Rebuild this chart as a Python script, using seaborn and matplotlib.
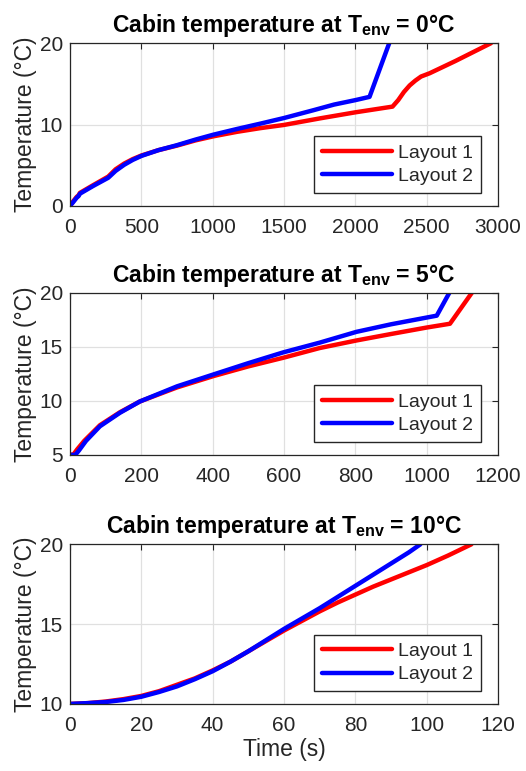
import numpy as np
import pandas as pd
import matplotlib
matplotlib.use("Agg")
import matplotlib.pyplot as plt
import seaborn as sns

# Cabin warm-up curves for two heating layouts at three ambient temperatures

# T_env = 0 degC
time0_l1 = [0, 20, 47, 60, 70, 163, 268, 320, 380, 440, 502, 620, 748, 880, 1005, 1170, 1332, 1500, 1750,
            2000, 2260, 2300, 2340, 2380, 2420, 2460, 2520, 2700, 2950]
temp0_l1 = [0.0, 0.5, 1.1, 1.3, 1.6, 2.55, 3.6, 4.5, 5.2, 5.75, 6.2, 6.85, 7.4, 8.05, 8.55, 9.1, 9.55, 9.95, 10.75,
            11.5, 12.2, 13.0, 14.0, 14.8, 15.4, 15.9, 16.3, 17.8, 20.0]
time0_l2 = [0, 20, 47, 60, 70, 163, 268, 320, 380, 440, 502, 620, 748, 880, 1005, 1170, 1332, 1500, 1704,
            1850, 2000, 2099, 2237]
temp0_l2 = [0.0, 0.4, 1.0, 1.2, 1.5, 2.45, 3.45, 4.3, 5.05, 5.65, 6.15, 6.85, 7.45, 8.15, 8.75, 9.45, 10.1, 10.8, 11.75,
            12.45, 13.0, 13.4, 20.0]

# T_env = 5 degC
time5_l1 = [0, 10, 20, 40, 84, 140, 196, 300, 402, 500, 598, 700, 803, 900, 1000, 1065, 1126]
temp5_l1 = [5.0, 5.05, 5.5, 6.3, 7.75, 8.95, 9.95, 11.25, 12.3, 13.2, 14.0, 14.9, 15.6, 16.2, 16.8, 17.15, 20.0]
time5_l2 = [0, 15, 25, 45, 84, 140, 196, 300, 402, 500, 598, 700, 803, 900, 1028, 1063]
temp5_l2 = [5.0, 5.0, 5.4, 6.3, 7.65, 8.9, 9.95, 11.35, 12.45, 13.5, 14.5, 15.4, 16.4, 17.1, 17.9, 20.0]

# T_env = 10 degC
time10_l1 = [0, 5, 10, 15, 20, 25, 30, 35, 40, 45, 50, 55, 60, 65, 70, 75, 80, 85, 90, 95, 100, 106, 112.5]
temp10_l1 = [10.0, 10.05, 10.15, 10.3, 10.5, 10.8, 11.2, 11.6, 12.1, 12.65, 13.3, 13.95, 14.6, 15.2, 15.8,
             16.35, 16.85, 17.35, 17.8, 18.25, 18.7, 19.3, 20.0]
time10_l2 = [0, 5, 10, 15, 20, 25, 30, 35, 40, 45, 50, 55, 60, 65, 70, 75, 80, 85, 90, 95, 98.2]
temp10_l2 = [10.0, 10.05, 10.12, 10.25, 10.45, 10.75, 11.1, 11.55, 12.05, 12.65, 13.3, 14.0, 14.7, 15.35, 16.0,
             16.7, 17.4, 18.1, 18.8, 19.5, 20.0]

layouts = ["Layout 1", "Layout 2"]
colors = {"Layout 1": "#ff0000", "Layout 2": "#0000ff"}

panels = [
    dict(env="0", series=[(time0_l1, temp0_l1), (time0_l2, temp0_l2)],
         xlim=(0, 3000), xticks=[0, 500, 1000, 1500, 2000, 2500, 3000],
         ylim=(0, 20), yticks=[0, 10, 20]),
    dict(env="5", series=[(time5_l1, temp5_l1), (time5_l2, temp5_l2)],
         xlim=(0, 1200), xticks=[0, 200, 400, 600, 800, 1000, 1200],
         ylim=(5, 20), yticks=[5, 10, 15, 20]),
    dict(env="10", series=[(time10_l1, temp10_l1), (time10_l2, temp10_l2)],
         xlim=(0, 120), xticks=[0, 20, 40, 60, 80, 100, 120],
         ylim=(10, 20), yticks=[10, 15, 20]),
]

sns.set_theme(style="white")
plt.rcParams["font.family"] = ["Liberation Sans", "DejaVu Sans"]
plt.rcParams["mathtext.fontset"] = "custom"
plt.rcParams["mathtext.rm"] = "Liberation Sans:bold"
plt.rcParams["mathtext.bf"] = "Liberation Sans:bold"
plt.rcParams["mathtext.default"] = "bf"

fig = plt.figure(figsize=(5.26, 7.71), dpi=100)
boxes = [(0.733, 0.944), (0.410, 0.620), (0.087, 0.294)]
left, right = 0.133, 0.947
dark = "#262626"
lw = 3.2

for p, (bot, top) in zip(panels, boxes):
    ax = fig.add_axes([left, bot, right - left, top - bot])
    frames = []
    for name, (tx, ty) in zip(layouts, p["series"]):
        frames.append(pd.DataFrame({"Time": tx, "Temp": ty, "Layout": name}))
    df = pd.concat(frames, ignore_index=True)
    sns.lineplot(data=df, x="Time", y="Temp", hue="Layout", palette=colors,
                 sort=False, estimator=None, linewidth=lw, ax=ax)
    ax.set_xlim(*p["xlim"])
    ax.set_ylim(*p["ylim"])
    ax.set_xticks(p["xticks"])
    ax.set_yticks(p["yticks"])
    ax.grid(True, color="#e0e0e0", linewidth=0.9)
    ax.set_axisbelow(True)
    for s in ax.spines.values():
        s.set_color(dark)
        s.set_linewidth(0.9)
    ax.tick_params(direction="in", length=4, width=0.8, colors=dark,
                   labelsize=15, top=True, right=True)
    ax.tick_params(axis="x", pad=9)
    ax.tick_params(axis="y", pad=5)
    ax.set_ylabel("Temperature (°C)", fontsize=16.5, color=dark, labelpad=2)
    ax.set_xlabel("")
    ax.set_title(r"Cabin temperature at T$_{\mathbf{env}}$ = " + p["env"] + "°C",
                 fontsize=16.5, fontweight="bold", color="black", pad=8)
    leg = ax.legend(loc="lower right", bbox_to_anchor=(1 - 17 / 428, 13 / 163),
                    borderaxespad=0, fontsize=14, handlelength=3.6,
                    frameon=True, fancybox=False, edgecolor=dark, framealpha=1,
                    borderpad=0.4, labelspacing=0.3, handletextpad=0.35)
    leg.get_frame().set_linewidth(1.0)
    for line in leg.get_lines():
        line.set_linewidth(lw)

ax.set_xlabel("Time (s)", fontsize=16.5, color=dark, labelpad=2)

fig.savefig("out.png", dpi=100)
